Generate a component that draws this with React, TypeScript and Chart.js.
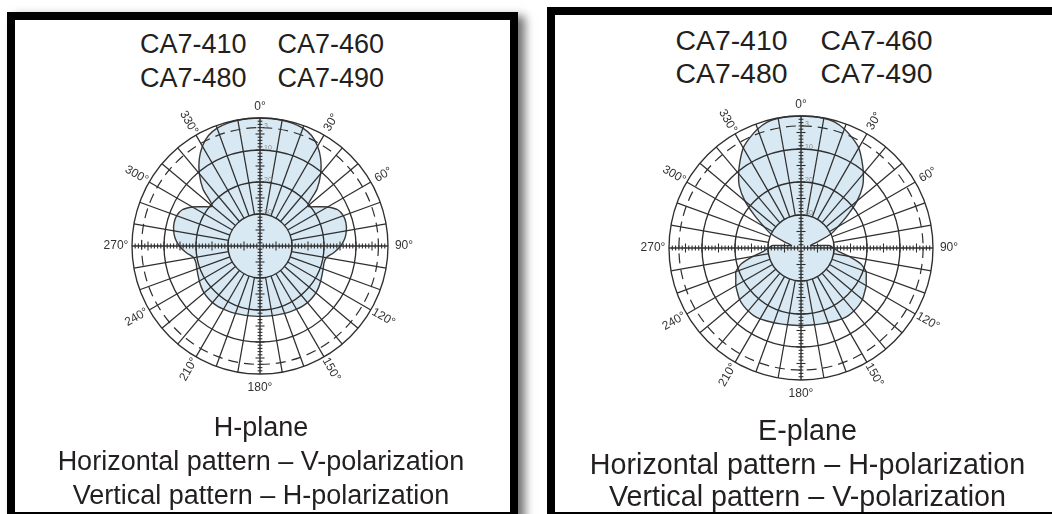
import React, { useEffect, useRef } from 'react';
import { Chart, registerables } from 'chart.js';

Chart.register(...registerables);

// ---------- data ----------
const ANGLES = [
  0, 5, 10, 15, 20, 25, 30, 35, 40, 45, 50, 55, 60, 65, 70, 75, 80, 85,
  90, 95, 100, 105, 110, 115, 120, 125, 130, 135, 140, 145, 150, 155, 160, 165, 170, 175,
  180, 185, 190, 195, 200, 205, 210, 215, 220, 225, 230, 235, 240, 245, 250, 255, 260, 265,
  270, 275, 280, 285, 290, 295, 300, 305, 310, 315, 320, 325, 330, 335, 340, 345, 350, 355,
];

// H-plane pattern, dB relative to peak
const H_PLANE_DB = [
  0, 0, -0.1, -0.3, -0.8, -1.9, -4.0, -6.9, -10.5, -14.8, -20.5, -18.6, -15.6, -13.2, -12.3, -12.2, -12.6, -13.4,
  -14.8, -16.8, -19.0, -19.3, -19.0, -18.6, -18.1, -17.6, -17.2, -17.0, -16.9, -17.0, -17.2, -17.4, -17.6, -17.8, -17.9, -18.0,
  -18.0, -18.0, -17.9, -17.8, -17.6, -17.4, -17.2, -17.0, -16.9, -17.0, -17.2, -17.6, -18.1, -18.6, -19.0, -19.3, -19.0, -16.8,
  -14.8, -13.4, -12.6, -12.2, -12.3, -13.2, -15.6, -18.6, -20.5, -14.8, -10.5, -6.9, -4.0, -1.9, -0.8, -0.3, -0.1, 0,
];

// E-plane pattern, dB relative to peak
const E_PLANE_DB = [
  0, 0, -0.1, -0.5, -1.6, -3.2, -5.0, -7.8, -10.6, -13.6, -17.8, -22.8, -27.0, -30.0, -34.8, -37.0, -35.8, -31.4,
  -30.2, -28.6, -25.2, -21.2, -19.0, -18.2, -17.2, -16.5, -15.7, -15.3, -15.1, -15.0, -15.2, -15.6, -15.9, -16.2, -16.4, -16.5,
  -16.5, -16.5, -16.4, -16.2, -15.9, -15.6, -15.2, -15.0, -15.1, -15.3, -15.7, -16.5, -17.2, -18.2, -19.0, -21.2, -25.2, -28.6,
  -30.2, -31.4, -35.8, -37.0, -34.8, -30.0, -27.0, -22.8, -17.8, -13.6, -10.6, -7.8, -5.0, -3.2, -1.6, -0.5, -0.1, 0,
];

const ANGLE_LABEL_AT = [0, 30, 60, 90, 120, 150, 180, 210, 240, 270, 300, 330];
const ANGLE_LABELS = ['0°', '30°', '60°', '90°', '120°', '150°', '180°', '210°', '240°', '270°', '300°', '330°'];

const SCALE_MIN_DB = -40;
const SCALE_MAX_DB = 0;
const RING_DB = [0, -10, -20, -30];
const DASHED_RING_DB = -3;
const AXIS_TICK_DB = [-3, -10, -20, -30];
const AXIS_TICK_LABELS = ['3', '10', '20', '30'];

const MODELS_ROW1 = ['CA7-410', 'CA7-460'];
const MODELS_ROW2 = ['CA7-480', 'CA7-490'];
const H_CAPTION = ['H-plane', 'Horizontal pattern – V-polarization', 'Vertical pattern – H-polarization'];
const E_CAPTION = ['E-plane', 'Horizontal pattern – H-polarization', 'Vertical pattern – V-polarization'];

// ---------- style ----------
const FONT = '"Liberation Sans", Arial, Helvetica, sans-serif';
const TEXT = '#231f20';
const GRID = '#2f2f2f';
const FILL = '#d9e9f3';
const OUTLINE = '#3a3a3a';

const polarDecor = {
  id: 'polarDecor',
  afterDatasetsDraw(chart: any) {
    const s: any = chart.scales.r;
    const ctx: CanvasRenderingContext2D = chart.ctx;
    const cx = s.xCenter;
    const cy = s.yCenter;
    const rd = (v: number) => s.getDistanceFromCenterForValue(v);
    const idx = (a: number) => ANGLES.indexOf(a);
    const line = (x1: number, y1: number, x2: number, y2: number) => {
      ctx.beginPath();
      ctx.moveTo(x1, y1);
      ctx.lineTo(x2, y2);
      ctx.stroke();
    };
    ctx.save();
    ctx.strokeStyle = GRID;
    ctx.lineWidth = 1.35;

    // rings
    RING_DB.forEach((v) => {
      ctx.beginPath();
      ctx.arc(cx, cy, rd(v), 0, Math.PI * 2);
      ctx.stroke();
    });
    ctx.lineWidth = 1.2;
    ctx.setLineDash([10, 6]);
    ctx.beginPath();
    ctx.arc(cx, cy, rd(DASHED_RING_DB), 0, Math.PI * 2);
    ctx.stroke();
    ctx.setLineDash([]);

    // spokes every 10 degrees, from the -30 dB ring outward
    ctx.lineWidth = 1.25;
    ANGLES.forEach((a, i) => {
      if (a % 10 !== 0 || a % 90 === 0) return;
      const p1 = s.getPointPosition(i, rd(-30));
      const p2 = s.getPointPosition(i, rd(0));
      line(p1.x, p1.y, p2.x, p2.y);
    });

    // main axes
    ctx.lineWidth = 1.4;
    [0, 90].forEach((a) => {
      const p1 = s.getPointPosition(idx(a), rd(0));
      const p2 = s.getPointPosition(idx(a + 180), rd(0));
      line(p1.x, p1.y, p2.x, p2.y);
    });

    // axis ticks every 1 dB, longer every 5 dB
    ctx.lineWidth = 1.1;
    [0, 90, 180, 270].forEach((a) => {
      const i = idx(a);
      for (let v = SCALE_MIN_DB + 1; v < SCALE_MAX_DB; v++) {
        const p = s.getPointPosition(i, rd(v));
        const half = v % 5 === 0 ? 4.5 : 2.4;
        const nx = -Math.sin(p.angle);
        const ny = Math.cos(p.angle);
        line(p.x - nx * half, p.y - ny * half, p.x + nx * half, p.y + ny * half);
      }
    });

    // small dB labels on the vertical axis
    ctx.fillStyle = '#8a8a8a';
    ctx.font = `7px ${FONT}`;
    ctx.textAlign = 'left';
    ctx.textBaseline = 'middle';
    AXIS_TICK_DB.forEach((v, k) => {
      const p = s.getPointPosition(idx(0), rd(v));
      ctx.fillText(AXIS_TICK_LABELS[k], cx + 4, p.y - 2);
    });

    // angle labels
    ctx.fillStyle = '#333333';
    ctx.font = `12px ${FONT}`;
    ctx.textAlign = 'center';
    ctx.textBaseline = 'middle';
    ANGLE_LABEL_AT.forEach((a, k) => {
      let off = 14.5;
      if (a === 0) off = 11;
      else if (a === 180) off = 14;
      else if (a === 90 || a === 270) off = 16;
      const p = s.getPointPosition(idx(a), rd(0) + off);
      let rot = 0;
      if (a % 90 !== 0) rot = ((a < 180 ? a - 90 : a - 270) * Math.PI) / 180;
      ctx.save();
      ctx.translate(p.x, p.y);
      ctx.rotate(rot);
      ctx.fillText(ANGLE_LABELS[k], 0, 0);
      ctx.restore();
    });
    ctx.restore();
  },
};

function PolarChart({ values, radius, margin, tension }: { values: number[]; radius: number; margin: number; tension: number }) {
  const ref = useRef<HTMLCanvasElement>(null);
  const size = radius * 2 + margin * 2;
  useEffect(() => {
    const chart = new Chart(ref.current as HTMLCanvasElement, {
      type: 'radar',
      data: {
        labels: ANGLES.map((a) => String(a)),
        datasets: [
          {
            data: values,
            fill: 'start',
            backgroundColor: FILL,
            borderColor: OUTLINE,
            borderWidth: 1.4,
            pointRadius: 0,
            pointHoverRadius: 0,
            tension,
          },
        ],
      },
      options: {
        responsive: false,
        maintainAspectRatio: false,
        animation: false,
        events: [],
        layout: { padding: margin },
        plugins: { legend: { display: false }, tooltip: { enabled: false } },
        scales: {
          r: {
            min: SCALE_MIN_DB,
            max: SCALE_MAX_DB,
            startAngle: 0,
            ticks: { display: false },
            grid: { display: false, circular: true },
            angleLines: { display: false },
            pointLabels: { display: false },
          },
        },
      } as any,
      plugins: [polarDecor as any],
    });
    return () => chart.destroy();
  }, [values, radius, margin, tension]);
  return <canvas ref={ref} width={size} height={size} style={{ width: size, height: size, display: 'block' }} />;
}

function TextLine({ text, cx, cy, size }: { text: React.ReactNode; cx: number; cy: number; size: number }) {
  const lh = Math.round(size * 1.25);
  return (
    <div
      style={{
        position: 'absolute',
        left: cx - 300,
        width: 600,
        top: cy - lh / 2,
        height: lh,
        lineHeight: `${lh}px`,
        fontSize: size,
        textAlign: 'center',
        whiteSpace: 'nowrap',
        color: TEXT,
        fontFamily: FONT,
      }}
    >
      {text}
    </div>
  );
}

function ModelRow({ items, cx, cy, size, gap }: { items: string[]; cx: number; cy: number; size: number; gap: number }) {
  return (
    <TextLine
      cx={cx}
      cy={cy}
      size={size}
      text={
        <span>
          <span style={{ marginRight: gap }}>{items[0]}</span>
          <span>{items[1]}</span>
        </span>
      }
    />
  );
}

export default function App() {
  const leftR = 128;
  const rightR = 132;
  const margin = 37;
  const leftC = { x: 260, y: 246 };
  const rightC = { x: 801, y: 248 };
  return (
    <div
      style={{
        position: 'absolute',
        left: 0,
        top: 0,
        width: 1052,
        height: 514,
        overflow: 'hidden',
        background: '#ffffff',
        fontFamily: FONT,
      }}
    >
      {/* panel frames */}
      <div
        style={{
          position: 'absolute',
          left: 7,
          top: 12,
          width: 511,
          height: 508,
          boxSizing: 'border-box',
          border: '8px solid #000',
          background: '#fff',
          boxShadow: '7px 4px 9px rgba(0,0,0,0.55)',
        }}
      />
      <div
        style={{
          position: 'absolute',
          left: 547,
          top: 7,
          width: 530,
          height: 513,
          boxSizing: 'border-box',
          border: '8px solid #000',
          background: '#fff',
        }}
      />

      {/* left panel content */}
      <ModelRow items={MODELS_ROW1} cx={262} cy={44} size={27} gap={31} />
      <ModelRow items={MODELS_ROW2} cx={262} cy={77.5} size={27} gap={31} />
      <div style={{ position: 'absolute', left: leftC.x - leftR - margin, top: leftC.y - leftR - margin }}>
        <PolarChart values={H_PLANE_DB} radius={leftR} margin={margin} tension={0.3} />
      </div>
      <TextLine text={H_CAPTION[0]} cx={261} cy={427} size={27} />
      <TextLine text={H_CAPTION[1]} cx={261} cy={461} size={27} />
      <TextLine text={H_CAPTION[2]} cx={261} cy={494.5} size={27} />

      {/* right panel content */}
      <ModelRow items={MODELS_ROW1} cx={804} cy={40} size={28.4} gap={33} />
      <ModelRow items={MODELS_ROW2} cx={804} cy={72.5} size={28.4} gap={33} />
      <div style={{ position: 'absolute', left: rightC.x - rightR - margin, top: rightC.y - rightR - margin }}>
        <PolarChart values={E_PLANE_DB} radius={rightR} margin={margin} tension={0.2} />
      </div>
      <TextLine text={E_CAPTION[0]} cx={807.5} cy={430} size={28.7} />
      <TextLine text={E_CAPTION[1]} cx={807.5} cy={463.5} size={28.7} />
      <TextLine text={E_CAPTION[2]} cx={807.5} cy={495.5} size={28.7} />
    </div>
  );
}
